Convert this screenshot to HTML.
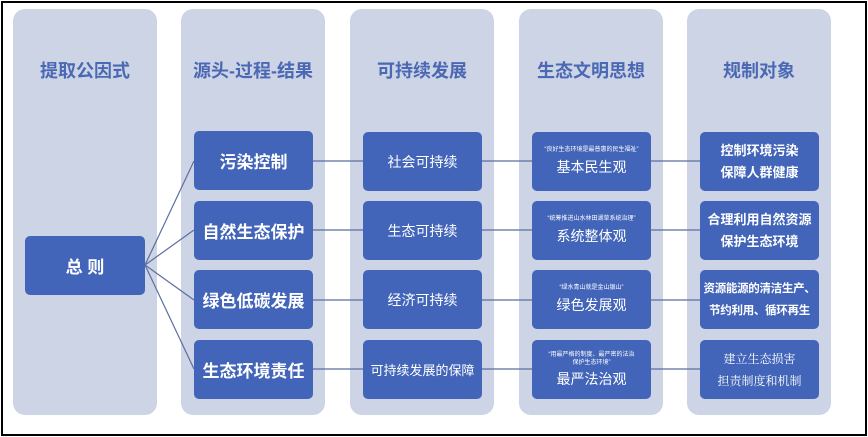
<!DOCTYPE html>
<html><head><meta charset="utf-8"><style>
body{margin:0;width:868px;height:437px;background:#fff;position:relative;overflow:hidden;font-family:"Liberation Sans","Noto Sans CJK SC",sans-serif}
.frame{position:absolute;left:1px;top:1px;width:862px;height:431px;border:2px solid #000}
.col{position:absolute;top:9px;width:144px;height:406px;background:#cdd4e6;border-radius:12px}
.hd{position:absolute;top:57px;width:144px;text-align:center;font-size:18px;font-weight:bold;color:#4a68b3}
.b{position:absolute;width:119px;height:59px;background:#4265b9;border-radius:5px;color:#fff;display:flex;flex-direction:column;align-items:center;justify-content:center;text-align:center;white-space:nowrap}
.f17{font-size:17px;font-weight:bold}
.f14{font-size:14px}
.s{font-size:6px;line-height:8px}
.m{font-size:13px;font-weight:bold;line-height:22px}
</style></head><body>
<div class="frame"></div>
<div class="col" style="left:13px"></div>
<div class="col" style="left:181px"></div>
<div class="col" style="left:350px"></div>
<div class="col" style="left:519px"></div>
<div class="col" style="left:687px"></div>
<div class="hd" style="left:13px">提取公因式</div>
<div class="hd" style="left:181px">源头-过程-结果</div>
<div class="hd" style="left:350px">可持续发展</div>
<div class="hd" style="left:519px">生态文明思想</div>
<div class="hd" style="left:687px">规制对象</div>
<svg width="868" height="437" style="position:absolute;left:0;top:0">
<g stroke="#5a6f9e" stroke-width="1.2" fill="none">
<line x1="145" y1="265" x2="194" y2="161"/>
<line x1="145" y1="265" x2="194" y2="230"/>
<line x1="145" y1="265" x2="194" y2="300"/>
<line x1="145" y1="265" x2="194" y2="369"/>
<line x1="313" y1="161" x2="700" y2="161"/>
<line x1="313" y1="230" x2="700" y2="230"/>
<line x1="313" y1="300" x2="700" y2="300"/>
<line x1="313" y1="369" x2="700" y2="369"/>
</g></svg>
<div class="b f17" style="left:25px;top:236px;width:120px">总 则</div>
<div class="b f17" style="left:194px;top:131px">污染控制</div>
<div class="b f17" style="left:194px;top:201px">自然生态保护</div>
<div class="b f17" style="left:194px;top:270px">绿色低碳发展</div>
<div class="b f17" style="left:194px;top:340px">生态环境责任</div>
<div class="b f14" style="left:363px;top:132px">社会可持续</div>
<div class="b f14" style="left:363px;top:201px">生态可持续</div>
<div class="b f14" style="left:363px;top:270px">经济可持续</div>
<div class="b" style="left:363px;top:340px;font-size:13px">可持续发展的保障</div>
<div class="b" style="left:532px;top:132px"><div class="s">“良好生态环境是最普惠的民生福祉”</div><div class="f14" style="margin-top:3px">基本民生观</div></div>
<div class="b" style="left:532px;top:201px"><div class="s">“统筹推进山水林田湖草系统治理”</div><div class="f14" style="margin-top:3px">系统整体观</div></div>
<div class="b" style="left:532px;top:270px"><div class="s">“绿水青山就是金山银山”</div><div class="f14" style="margin-top:3px">绿色发展观</div></div>
<div class="b" style="left:532px;top:340px"><div class="s">“用最严格的制度、最严密的法治<br>保护生态环境”</div><div class="f14" style="margin-top:2px">最严法治观</div></div>
<div class="b m" style="left:700px;top:132px">控制环境污染<br>保障人群健康</div>
<div class="b m" style="left:700px;top:201px">合理利用自然资源<br>保护生态环境</div>
<div class="b m" style="left:700px;top:270px;font-size:11.5px;letter-spacing:-0.3px">资源能源的清洁生产、<br>节约利用、循环再生</div>
<div class="b" style="left:700px;top:340px;font-family:'Noto Serif CJK SC',serif;font-size:12px;line-height:22px">建立生态损害<br>担责制度和机制</div>
</body></html>
